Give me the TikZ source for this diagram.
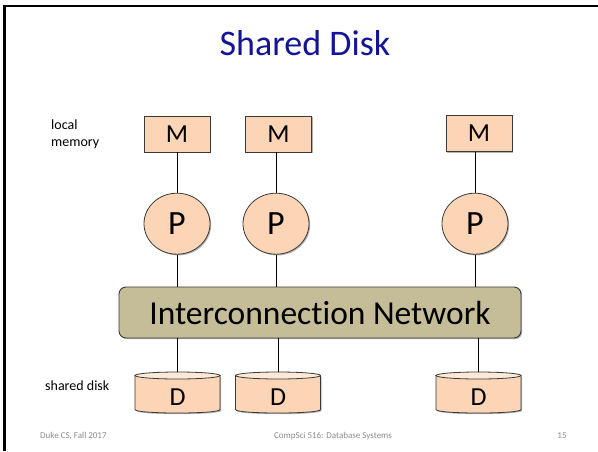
\documentclass[tikz,border=0pt]{standalone}
\usepackage{fontspec}
\setmainfont{Carlito}[Ligatures=NoCommon]
\usetikzlibrary{shapes.geometric,shadows}

\definecolor{peach}{HTML}{FBD5B5}
\definecolor{peachlight}{HTML}{FDE9D9}
\definecolor{netfill}{HTML}{C4BD97}
\definecolor{edgegray}{HTML}{3A3A3A}
\definecolor{titleblue}{RGB}{20,20,150}
\definecolor{footgray}{RGB}{140,140,140}

\begin{document}
\begin{tikzpicture}[x=1pt,y=-1pt,
  softshadow/.style={drop shadow={shadow xshift=1.2pt,shadow yshift=-1.2pt,opacity=0.3,fill=black}},
  membox/.style={draw=edgegray,line width=0.8pt,fill=peach,minimum width=66pt,
    minimum height=36pt,inner sep=0pt,font=\fontsize{26}{26}\selectfont,softshadow},
  proc/.style={ellipse,draw=edgegray,line width=0.8pt,fill=peach,minimum width=66pt,
    minimum height=61pt,inner sep=0pt,font=\fontsize{34}{34}\selectfont,softshadow},
  netbox/.style={draw=edgegray,line width=0.9pt,fill=netfill,rounded corners=7pt,
    minimum width=402pt,minimum height=51pt,inner sep=0pt,
    font=\fontsize{33.5}{33.5}\selectfont,softshadow},
  diskbox/.style={minimum width=85pt,minimum height=41pt,inner sep=0pt,
    text height=25pt,text depth=0pt,font=\fontsize{26}{26}\selectfont},
  link/.style={draw=black,line width=0.9pt},
  sidelabel/.style={font=\fontsize{14}{16.7}\selectfont,inner sep=0pt},
  footer/.style={font=\fontsize{9}{9}\selectfont,text=footgray,inner sep=0pt},
  diskpic/.pic={
    \fill[black,opacity=0.3,shift={(1.2pt,-1.2pt)}]
      (-42.5,-17) -- (-42.5,17) .. controls (-42.5,21.67) and (42.5,21.67) .. (42.5,17)
      -- (42.5,-17) -- cycle;
    \draw[draw=edgegray,line width=0.8pt,fill=peach]
      (-42.5,-17) -- (-42.5,17) .. controls (-42.5,21.67) and (42.5,21.67) .. (42.5,17)
      -- (42.5,-17) -- cycle;
    \draw[draw=edgegray,line width=0.8pt,fill=peachlight]
      (0,-17) ellipse [x radius=42.5, y radius=3.5];
  }]

\useasboundingbox (0,0) rectangle (598,451);

% slide frame (top and left edges)
\draw[line width=2.2pt] (598,6) -- (4.5,6) -- (4.5,451);

% title
\node[font=\fontsize{36}{36}\selectfont,text=titleblue,inner sep=0pt] (title) at (305,43) {Shared Disk};

% disk bodies, drawn first so the letters sit on top
\pic at (177.5,392.5) {diskpic};
\pic at (278,392.5) {diskpic};
\pic at (478.5,392.5) {diskpic};

% memories
\node[membox] (m1) at (177,134) {M};
\node[membox] (m2) at (278.5,134) {M};
\node[membox] (m3) at (479,133.3) {M};

% processors
\node[proc] (p1) at (177,223.7) {P};
\node[proc] (p2) at (276,223.7) {P};
\node[proc] (p3) at (475,223.7) {P};

% interconnection network
\node[netbox] (net) at (320,312.5) {Interconnection Network};

% shared disks
\node[diskbox] (d1) at (177.5,392.5) {D};
\node[diskbox] (d2) at (278,392.5) {D};
\node[diskbox] (d3) at (478.5,392.5) {D};

% connectors
\draw[link] (p1.north) -- (p1.north |- m1.south);
\draw[link] (p2.north) -- (p2.north |- m2.south);
\draw[link] (p3.north) -- (p3.north |- m3.south);
\draw[link] (p1.south) -- (p1.south |- net.north);
\draw[link] (p2.south) -- (p2.south |- net.north);
\draw[link] (p3.south) -- (p3.south |- net.north);
\draw[link] (d1.north) -- (d1.north |- net.south);
\draw[link] (d2.north) -- (d2.north |- net.south);
\draw[link] (d3.north) -- (d3.north |- net.south);

% side labels
\node[sidelabel,align=left,anchor=north west] (lmem) at (51,120) {local\\memory};
\node[sidelabel,anchor=base west] (ldisk) at (45,390.5) {shared disk};

% footer
\node[footer,anchor=west] (f1) at (40,436) {Duke CS, Fall 2017};
\node[footer] (f2) at (333,436) {CompSci 516: Database Systems};
\node[footer] (f3) at (562,436) {15};
\end{tikzpicture}
\end{document}
